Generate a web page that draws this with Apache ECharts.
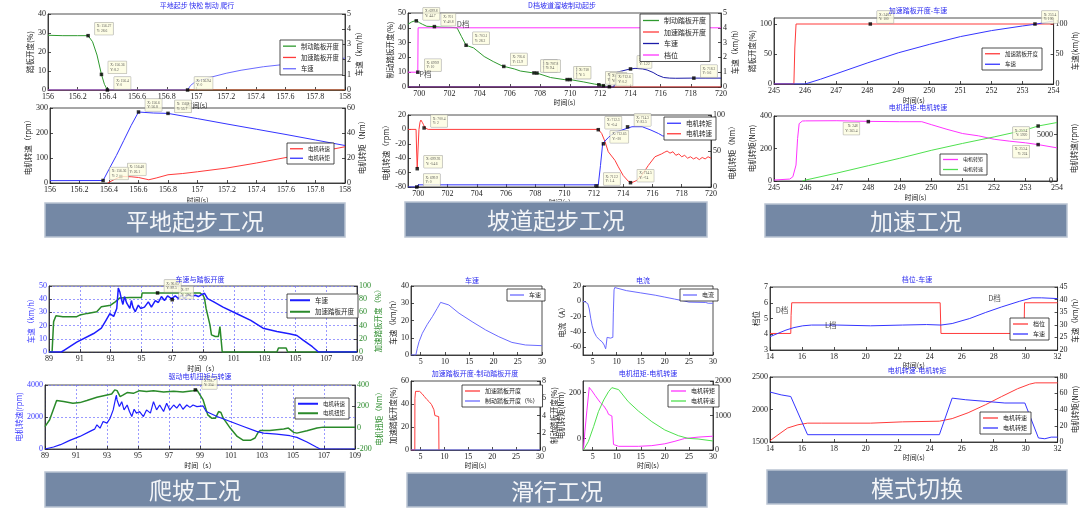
<!DOCTYPE html>
<html><head><meta charset="utf-8">
<script src="https://cdn.jsdelivr.net/npm/echarts@6/dist/echarts.min.js"></script>
<style>html,body{margin:0;padding:0;background:#fff}#c{width:1080px;height:518px}</style>
</head><body><div id="c"></div>
<script>
// ---------------- DATA ----------------
// Panel 1 – 平地起步
const p1Title = '平地起步 快松 制动 爬行';
const p1XTicks = [156,156.2,156.4,156.6,156.8,157,157.2,157.4,157.6,157.8,158];
const p1Brake = [[156,28.8],[156.1,28.6],[156.2,28.6],[156.27,28.6],[156.3,25.4],[156.33,18.4],[156.36,8.2],[156.38,3],[156.4,0],[158,0]];
const p1Accel = [[156,0],[158,0]];
const p1Speed = [[156,0],[156.94,0],[156.96,0.3],[156.98,0.45],[157.0,0.6],[157.05,0.7],[157.1,0.85],[157.2,1.1],[157.3,1.3],[157.45,1.53],[157.6,1.69],[157.7,1.78],[157.8,1.86],[157.9,1.98],[158,2.1]];
const p1TipsL = [[156.27,28.6],[156.36,8.2],[156.4,0],[156.94,0]];
const p1Rpm = [[156.39,0],[156.43,12],[156.48,26],[156.55,25],[156.6,22],[156.67,13],[156.72,20],[156.8,33],[156.9,38],[157,45],[157.2,60],[157.4,80],[157.6,102],[157.8,122],[158,145]];
const p1Torque = [[156,1.9],[156.36,2.0],[156.4,11],[156.45,22],[156.5,34],[156.55,46],[156.6,56.8],[156.7,56],[156.8,55.7],[157,51.5],[157.2,47.2],[157.4,43],[157.6,38.8],[157.8,34.4],[158,30]];
const p1bTipsL = [[156.48,26.1]];
const p1bTipsR = [[156.36,2.0],[156.6,56.8],[156.8,55.7]];

// Panel 2 – 坡道起步
const p2Title = 'D档坡道溜坡制动起步';
const p2XTicks = [700,702,704,706,708,710,712,714,716,718,720];
const p2Brake = [[699.25,42.4],[699.5,44],[699.8,45],[700,43.5],[700.2,42.4],[700.5,41],[701,40.8],[701.5,40.4],[702.1,40.3],[702.5,40],[702.8,34],[703.1,28.2],[703.6,26.4],[704.3,20.6],[704.9,17.2],[705.5,14.2],[706.3,12.2],[706.7,10.8],[707.5,9.6],[707.8,9.4],[708.7,6.4],[709.6,5],[710,5],[710.9,3.4],[711.6,2],[712,1.4],[712.4,0.5],[712.7,0]];
const p2Accel = [[699.25,0],[720,0]];
const p2Speed = [[699.25,0],[712.9,0],[713.0,0.6],[713.1,1.0],[713.5,1.1],[713.9,1.2],[714.3,1.26],[714.8,1.22],[715.1,1.15],[715.5,0.98],[715.8,0.8],[716.2,0.64],[716.6,0.6],[717,0.59],[718,0.6],[719,0.6],[720,0.6]];
const p2Gear = [[699.25,10],[699.9,10],[699.92,40],[720,40]];
const p2Notes = [[702.9,42.5,'D档'],[700.4,9,'P档']];
const p2TipsL = [[699.8,44.7],[701,40.8],[703.1,28.2],[705.6,13.9],[707.6,9.5],[707.8,9.4],[709.8,5],[710,5],[711.9,1.5],[712.2,0.9],[712.6,0.2],[699.9,10]];
const p2TipsR = [[714.0,1.22],[718.2,0.6]];
const p2bXTicks = p2XTicks;
const p2Rpm = [[699.3,0],[699.85,0],[699.89,-30],[699.93,-54],[699.98,-30],[700.05,0],[700.12,10],[700.18,13],[700.27,10],[700.35,7],[700.46,2],[700.68,0],[712.3,0],[712.53,-5.6],[712.76,-17],[712.98,-31],[713.44,-43],[713.67,-52],[714.0,-64],[714.35,-72],[714.58,-74],[714.92,-71],[715.26,-64],[715.72,-50],[716.17,-38],[716.63,-34],[716.8,-32],[717.0,-30],[717.2,-33],[717.4,-31],[717.6,-36],[717.8,-34],[718.0,-38],[718.2,-36],[718.4,-40],[718.6,-38],[718.8,-41],[719.0,-39],[719.2,-42],[719.4,-39],[719.6,-41],[719.8,-38],[720,-40]];
const p2Torque = [[699.3,0],[699.9,0],[700.0,3],[712.3,3],[712.45,30],[712.6,60.5],[713,69],[713.4,75.8],[713.9,79],[714.6,83.7],[715.3,83.7],[715.9,79],[716.4,74.4],[716.7,71],[717.5,69],[718.5,68],[720,68]];
const p2bTipsL = [[699.93,-54.6],[700.4,2],[712.3,-0.4],[712.65,-20],[714.5,-74]];
const p2bTipsR = [[699.9,0],[712.2,1.4],[714.3,83.5]];

// Panel 3 – 加速
const p3XTicks = [245,246,247,248,249,250,251,252,253,254];
const p3Accel = [[245,0],[245.64,0],[245.67,60],[245.71,100],[254,100]];
const p3Speed = [[245,0],[246,0],[246.5,8],[247,17],[248,35],[249,52],[250,66],[251,79],[252,89],[253,96.7],[253.4,99.5],[254,105]];
const p3TipsL = [[248.1,100],[253.4,100]];
const p3Torque = [[245,6],[245.5,12],[245.6,26],[245.7,98],[245.75,261],[245.8,353],[245.9,369],[246,370],[247,371],[248,367],[249,365],[249.7,365],[250,347],[250.5,318],[251,292],[251.5,278],[252,257],[252.5,245],[253,235],[253.4,224],[254,204]];
const p3Rpm = [[245.9,0],[246,100],[247,850],[248,1650],[249,2450],[250,3300],[251,4050],[252,4750],[253,5500],[253.4,5920],[254,6300]];
const p3bTipsL = [[248,365.4],[253.4,224]];
const p3bTipsR = [[253.4,5920]];

// Panel 4 – 爬坡
const p4Speed = [[89,0],[89.8,0],[90,1.5],[90.8,7.5],[91.9,14],[92.4,18],[92.7,24],[92.95,29],[93.2,27],[93.3,28],[93.4,33],[93.5,48.5],[93.6,45.5],[93.7,40],[93.8,36],[93.9,42],[94.05,37],[94.25,33],[94.35,39],[94.45,34],[94.6,30.5],[94.8,35.5],[94.95,33],[95.2,34],[95.45,38],[95.65,34],[95.9,39],[96.1,37.5],[96.3,42],[96.5,39],[96.7,42.5],[96.95,40.5],[97.2,42.5],[97.4,40.5],[97.6,43],[97.8,40.5],[98.05,43.5],[98.25,42],[98.5,43],[98.7,42],[98.9,43.5],[99.1,44.5],[99.3,40.5],[99.7,38],[100.3,34],[101.2,29],[102.1,24],[102.9,18],[103.8,15.5],[104.6,13.8],[105.1,12.5],[105.5,9],[106.1,4],[106.5,0],[109,0]];
const p4Pedal = [[89,0],[89.2,0],[89.3,46],[89.45,55],[89.9,53.5],[90.8,53.5],[91.0,56],[91.5,58.5],[92.1,61],[92.4,68.5],[93.0,71],[93.3,76],[93.6,82],[94.25,82.5],[95.0,82.5],[95.05,89.5],[98.8,89.5],[99.0,86],[99.1,81],[99.2,66],[99.45,41],[99.55,26],[99.8,23.5],[100.0,23.5],[100.1,38.5],[100.2,38.5],[100.25,0],[103.8,0],[103.9,6],[104.4,6],[104.5,0],[109,0]];
const p4TipsL = [[97,39.6]];
const p4TipsR = [[96.05,89.5]];
const p4Rpm = [[89,0],[89.1,40],[89.55,124],[90,270],[90.6,540],[91.25,786],[91.9,1100],[92.2,1240],[92.35,1510],[92.55,1300],[92.75,1720],[93,1615],[93.2,1925],[93.4,2445],[93.6,3375],[93.65,3065],[93.8,2650],[93.95,2960],[94.1,2445],[94.3,2750],[94.45,2340],[94.6,2030],[94.75,2485],[94.9,2240],[95.1,2340],[95.35,2030],[95.55,2445],[95.8,2240],[96,2960],[96.2,2445],[96.4,2750],[96.65,2340],[96.85,2860],[97.05,2445],[97.3,2750],[97.5,2550],[97.7,2815],[97.9,2485],[98.15,2750],[98.35,2600],[98.55,2750],[98.8,2650],[99.2,2690],[99.4,2340],[100.1,2030],[100.95,1720],[101.8,1410],[102.65,1100],[103.1,995],[103.95,930],[104.8,830],[105.25,725],[105.9,435],[106.5,124],[106.75,0],[109,0]];
const p4Torque = [[89,10],[89.3,74],[89.75,255],[90.2,245],[90.8,229],[91.25,235],[91.7,254],[92.35,285],[93,307],[93.3,316],[93.5,354],[93.65,347],[93.85,291],[94.05,307],[94.3,329],[94.7,322],[95.1,347],[95.55,338],[96,347],[96.65,335],[97.3,341],[97.9,335],[98.55,347],[98.8,354],[99.2,260],[99.5,120],[99.75,89],[100,89],[100.2,151],[100.35,142],[100.5,89],[100.95,-4],[101.4,-82],[101.8,-119],[102.25,-119],[102.55,-97],[102.75,-44],[102.9,-26],[103.5,-26],[104.4,-13],[104.7,-4],[105.05,-44],[105.25,-51],[105.9,-29],[106.55,-4],[106.95,5],[109,5]];
const p4bTipsR = [[98.7,354]];

// Panel 5 – 滑行
const p5XTicks = [5,10,15,20,25,30];
const p5Speed = [[3,0],[4.0,0],[4.3,3.9],[4.66,7.7],[5.34,12.6],[6.37,17.8],[7.4,22.2],[8.4,27],[9.1,30.5],[9.45,31.3],[10.8,29],[12.9,24.2],[15.6,19.3],[18.4,14.5],[21.1,10.6],[23.8,7.3],[26.6,5.8],[30,5.4]];
const p5Current = [[3,0],[3.5,-1],[4.0,-3],[4.3,-10],[4.6,-22],[4.9,-32],[5.3,-40],[5.8,-46],[6.4,-50],[7.0,-53],[7.4,-57],[7.7,-62],[7.8,-58],[8.0,-47],[8.3,-46],[8.7,-48],[9.1,-49],[9.2,-47],[9.3,-15],[9.45,15],[9.6,18],[10,17],[12,14],[15,11],[18,8],[20,5.5],[22,3],[24,0.5],[25,-1],[28.5,-1.5],[29,-2.5],[30,-2.5]];
const p5CurYTicks = [-60,-40,-20,0,20];
const p5Accel = [[3,0],[3.8,0],[3.82,45],[3.95,51],[4.3,52],[4.8,51],[5.3,49],[5.8,46.5],[6.3,44],[6.8,42],[7.3,39.5],[7.6,38],[7.8,35],[8.0,30],[8.3,29.5],[8.8,29],[8.85,0]];
const p5Brake = [[3,0],[30,0]];
const p5Torque = [[3.1,-48],[3.4,32],[3.8,120],[4.3,222],[4.86,207],[5.55,186],[6.6,156],[7.3,142],[7.6,142],[8.0,120],[8.3,105],[9.0,98],[9.34,-26],[10.4,-34],[14.5,-34],[17.3,-31],[20,-23],[22.1,-12],[24.1,0],[26.9,6],[30,10]];
const p5Rpm = [[3.1,0],[4.1,242],[5.2,676],[6.2,1111],[7.3,1449],[8.3,1691],[9.0,1807],[9.3,1836],[10.4,1750],[12.4,1401],[14.5,1130],[17.3,821],[20,580],[22.8,415],[24.8,338],[26.9,319],[30,261]];
const p5TqTicks = [0,200];

// Panel 6 – 模式切换
const p6XTicks = [14,16,18,20,22,24,26,28,30,32];
const p6Gear = [[14,4.05],[15.3,4.05],[15.32,5.2],[15.36,6],[24.65,6],[24.7,4.05],[29.9,4.05],[29.93,6],[32,6]];
const p6Speed = [[14,25.3],[14.5,26.6],[15.0,27.9],[15.5,28.9],[16.05,29.6],[16.6,29.9],[18.2,29.9],[20.3,29.6],[22.3,29.9],[23.8,30.1],[24.7,29.9],[25.4,30.5],[26.5,32.5],[27.5,34.9],[28.5,37.1],[29.6,39.3],[30.4,40.7],[31,40.7],[32,40.4]];
const p6Notes = [[14.75,5.5,'D档'],[17.8,4.6,'L档'],[28.05,6.3,'D档']];
const p6Rpm = [[14,1520],[14.5,1610],[15.1,1715],[15.75,1765],[16.35,1790],[17.2,1790],[20.3,1790],[22.3,1810],[24.6,1820],[25.4,1860],[26.4,1950],[27.5,2075],[28.5,2200],[29.5,2320],[30.25,2390],[30.6,2410],[32,2410]];
const p6Torque = [[14,61.5],[14.7,58],[15.3,56],[16.35,9],[24.6,9],[25.4,54],[26.25,52],[27.5,50],[28.7,48],[29.95,48],[30.8,5],[31.2,4],[31.6,6],[32,6]];

const banners = ['平地起步工况','坡道起步工况','加速工况','爬坡工况','滑行工况','模式切换'];

// ---------------- BUILD ----------------
const FN = '"Liberation Serif", serif';
const FC = '"Noto Sans CJK SC", sans-serif';
const INK = '#222';
const fmt = v => String(Math.round(v * 1000) / 1000);
const grids = [], xAxes = [], yAxes = [], series = [], legends = [], graphics = [];

function mkX(gi, o) {
  return {type:'value', gridIndex:gi, min:o.min, max:o.max, interval:o.interval,
    axisLine:{onZero:false, lineStyle:{color:INK, width:0.8}},
    axisTick:{inside:true, length:3, lineStyle:{color:INK, width:0.8}, customValues:o.ticks},
    axisLabel:{fontFamily:FN, fontSize:8, color:o.lc||INK, margin:3, customValues:o.ticks, formatter:fmt},
    splitLine:{show:!!o.grid, lineStyle:{color:'#7070ff', type:[2,2], width:0.7}},
    name:o.name||'', nameLocation:'middle', nameGap:o.gap||13,
    nameTextStyle:{fontFamily:FC, fontSize:7, color:INK}};
}
function mkY(gi, o, pos) {
  return {type:'value', gridIndex:gi, position:pos, min:o.min, max:o.max, interval:o.interval,
    axisLine:{show:true, onZero:false, lineStyle:{color:INK, width:0.8}},
    axisTick:{show:true, inside:true, length:3, lineStyle:{color:INK, width:0.8}, customValues:o.ticks},
    axisLabel:{fontFamily:FN, fontSize:8, color:o.lc||INK, margin:o.inside?4:2, inside:!!o.inside, customValues:o.ticks, formatter:fmt},
    splitLine:{show:!!o.grid, lineStyle:{color:'#7070ff', type:[2,2], width:0.7}},
    name:o.name||'', nameLocation:'middle', nameRotate:90, nameGap:o.gap||16,
    nameTextStyle:{fontFamily:FC, fontSize:o.nfs||7.5, color:o.nc||INK}};
}
function tipSeries(gi, yi, arr, pos) {
  if (!arr || !arr.length) return;
  const left = pos === 'left';
  series.push({type:'scatter', xAxisIndex:gi, yAxisIndex:yi, data:arr, symbol:'rect', symbolSize:3.5,
    itemStyle:{color:'#000'}, z:6, silent:true,
    label:{show:true, position:left?'left':'right', offset:left?[-2,7]:[0,-7], formatter:p=>'X: '+p.value[0]+'\nY: '+p.value[1],
      fontSize:3.6, lineHeight:4.6, fontFamily:FN, color:'#333', backgroundColor:'#fdfde0',
      borderColor:'#999', borderWidth:0.5, padding:[1.5,2]}});
}
function noteSeries(gi, yi, arr) {
  series.push({type:'scatter', xAxisIndex:gi, yAxisIndex:yi, symbolSize:0, z:6, silent:true,
    data:arr.map(d=>({value:[d[0],d[1]], name:d[2]})),
    label:{show:true, position:'inside', formatter:p=>p.name, fontSize:7.5, fontFamily:FC, color:INK}});
}
function panel(c) {
  const gi = grids.length;
  grids.push({left:c.box[0], top:c.box[1], width:c.box[2], height:c.box[3], show:true,
    borderColor:INK, borderWidth:0.8, backgroundColor:'#fff'});
  xAxes.push(mkX(gi, c.x));
  const yl = yAxes.length; yAxes.push(mkY(gi, c.yl, 'left'));
  let yr = yl;
  if (c.yr) { yr = yAxes.length; yAxes.push(mkY(gi, c.yr, 'right')); }
  const names = [];
  c.series.forEach(s => {
    const nm = s.name + '#' + gi;
    names.push(nm);
    series.push({type:'line', name:nm, xAxisIndex:gi, yAxisIndex:s.right?yr:yl, data:s.data,
      symbol:'none', showSymbol:false, animation:false, z:s.z||3,
      lineStyle:{color:s.color, width:s.w||1}, itemStyle:{color:s.color}});
  });
  tipSeries(gi, yl, c.tipsL, c.tipPosL); tipSeries(gi, yr, c.tipsR, c.tipPosR);
  if (c.notes) noteSeries(gi, yl, c.notes);
  if (c.legend) {
    const L = c.legend;
    legends.push({left:L.left, top:L.top, orient:'vertical', data:L.order?L.order.map(i=>names[i]):names,
      formatter:n=>n.replace(/#\d+$/,''), selectedMode:false, icon:'rect', itemWidth:L.iw||15, itemHeight:L.ih||1.3,
      itemGap:L.gap||4, padding:L.pad||[3,4,3,3], borderColor:INK, borderWidth:0.8, backgroundColor:'#fff',
      textStyle:{fontFamily:FC, fontSize:L.fs||6, color:INK}, z:7});
  }
  if (c.title) graphics.push({type:'text', x:c.title.x, y:c.title.y, z:10,
    style:{text:c.title.text, fill:'#2b2bef', font:'7px ' + FC, align:'center', verticalAlign:'middle'}});
}

const GREEN = '#2f9a2f', RED = '#ff3b3b', BLUE = '#3535ff', LBLUE = '#6b6bff', DBLUE = '#1c1ca8',
      MAG = '#ff33ff', LGREEN = '#4fe04f';

// P1 top
panel({box:[48,14,297,76],
  x:{min:156,max:158,ticks:p1XTicks,name:'时间(s)',gap:12},
  yl:{min:0,max:40,ticks:[0,10,20,30,40],name:'踏板开度(%)',gap:14},
  yr:{min:0,max:5,ticks:[0,1,2,3,4,5],name:'车速（km/h）',gap:10},
  series:[{name:'制动踏板开度',data:p1Brake,color:GREEN},{name:'加速踏板开度',data:p1Accel,color:RED},
          {name:'车速',data:p1Speed,color:LBLUE,right:true}],
  tipsL:p1TipsL, legend:{left:280,top:40,fs:6.3,gap:5,iw:13},
  title:{text:p1Title,x:197,y:5}});
// P1 bottom
panel({box:[50,108,295,75],
  x:{min:156,max:158,ticks:p1XTicks,name:'时间(s)',gap:14},
  yl:{min:0,max:300,ticks:[0,100,200,300],name:'电机转速（rpm）',gap:18},
  yr:{min:0,max:60,ticks:[0,20,40,60],name:'电机转矩（Nm）',gap:13},
  series:[{name:'电机转速',data:p1Rpm,color:RED},{name:'电机转矩',data:p1Torque,color:BLUE,right:true}],
  tipsL:p1bTipsL, tipsR:p1bTipsR, legend:{left:287,top:143,fs:5.5,iw:13}});
// P2 top
panel({box:[408,13,313,74],
  x:{min:699.25,max:720,ticks:p2XTicks,name:'时间(s)',gap:12},
  yl:{min:0,max:50,ticks:[0,10,20,30,40,50],name:'制动踏板开度(%)',gap:14},
  yr:{min:0,max:5,ticks:[0,1,2,3,4,5],name:'车速（km/h）',gap:10},
  series:[{name:'制动踏板开度',data:p2Brake,color:GREEN},{name:'加速踏板开度',data:p2Accel,color:RED},
          {name:'车速',data:p2Speed,color:DBLUE,right:true},{name:'档位',data:p2Gear,color:MAG}],
  tipsL:p2TipsL, tipsR:p2TipsR, notes:p2Notes, legend:{left:640,top:14,fs:7,gap:4.5,iw:16},
  title:{text:p2Title,x:562,y:5}});
// P2 bottom
panel({box:[408,115,303,72],
  x:{min:699.3,max:720,ticks:p2bXTicks,name:'时间(s)',gap:12},
  yl:{min:-80,max:20,ticks:[-80,-60,-40,-20,0,20],name:'电机转速（rpm）',gap:18},
  yr:{min:0,max:100,ticks:[0,50,100],name:'电机转矩（Nm）',gap:16},
  series:[{name:'电机转速',data:p2Rpm,color:RED},{name:'电机转矩',data:p2Torque,color:BLUE,right:true}],
  tipsL:p2bTipsL, tipsR:p2bTipsR, legend:{left:664,top:117,fs:6.5,order:[1,0],iw:14}});
// P3 top
panel({box:[774,18,283,66],
  x:{min:245,max:254,ticks:p3XTicks,name:'时间(s)',gap:13},
  yl:{min:0,max:110,ticks:[0,50,100],name:'踏板开度(%)',gap:17},
  yr:{min:0,max:110,ticks:[0,50,100],name:'车速(km/h)',gap:16},
  series:[{name:'加速踏板开度',data:p3Accel,color:RED},{name:'车速',data:p3Speed,color:BLUE,right:true}],
  tipsL:p3TipsL, legend:{left:982,top:48,fs:5.5,gap:5},
  title:{text:'加速踏板开度-车速',x:918,y:10}});
// P3 bottom
panel({box:[774,116,283,65],
  x:{min:245,max:254,ticks:p3XTicks,name:'时间(s)',gap:13},
  yl:{min:0,max:400,ticks:[0,200,400],name:'电机转矩(Nm)',gap:17},
  yr:{min:0,max:7000,ticks:[0,5000],name:'电机转速(rpm)',gap:13,inside:true},
  series:[{name:'电机转矩',data:p3Torque,color:MAG},{name:'电机转速',data:p3Rpm,color:LGREEN,right:true}],
  tipsL:p3bTipsL, tipsR:p3bTipsR, tipPosL:'left', tipPosR:'left', legend:{left:940,top:154,fs:5,gap:5},
  title:{text:'电机扭矩-电机转速',x:918,y:107}});
// P4 top
panel({box:[49,286,308,66],
  x:{min:89,max:109,interval:2,name:'时间（s）',gap:13,grid:true},
  yl:{min:0,max:50,interval:10,name:'车速（km/h）',gap:14,lc:'#3a3aff',nc:'#3a3aff',grid:true},
  yr:{min:0,max:100,interval:20,name:'加速踏板开度（%）',gap:16,lc:'#2a8a2a',nc:'#2a8a2a'},
  series:[{name:'车速',data:p4Speed,color:'#1d1dff',w:1.5,z:4},{name:'加速踏板开度',data:p4Pedal,color:'#2a8a2a',w:1.5,right:true}],
  tipsL:p4TipsL, tipsR:p4TipsR, legend:{left:287,top:294,fs:6.5,iw:20,ih:2,gap:5},
  title:{text:'车速与踏板开度',x:200,y:279}});
// P4 bottom
panel({box:[45,385,310,64],
  x:{min:89,max:109,interval:2,name:'时间（s）',gap:13,grid:true},
  yl:{min:0,max:4000,interval:2000,name:'电机转速(rpm)',gap:22,lc:'#3a3aff',nc:'#3a3aff',grid:true},
  yr:{min:-200,max:400,interval:200,name:'电机扭矩（Nm）',gap:20,lc:'#2a8a2a',nc:'#2a8a2a'},
  series:[{name:'电机转速',data:p4Rpm,color:'#1d1dff',w:1.2,z:4},{name:'电机扭矩',data:p4Torque,color:'#2a8a2a',w:1.5,right:true}],
  tipsR:p4bTipsR, legend:{left:295,top:398,fs:5.5,iw:20,ih:2},
  title:{text:'驱动电机扭矩与转速',x:200,y:376}});
// P5 TL
panel({box:[411,286,131,69],
  x:{min:3,max:30,ticks:p5XTicks},
  yl:{min:0,max:40,ticks:[0,10,20,30,40],name:'车速（km/h）',gap:14},
  series:[{name:'车速',data:p5Speed,color:LBLUE}],
  legend:{left:507,top:289,fs:6,iw:14},
  title:{text:'车速',x:472,y:280}});
// P5 TR
panel({box:[583,286,130,69],
  x:{min:3,max:30,ticks:p5XTicks},
  yl:{min:-70,max:20,ticks:p5CurYTicks,name:'电流（A）',gap:17},
  series:[{name:'电流',data:p5Current,color:LBLUE}],
  legend:{left:680,top:289,fs:6,iw:14},
  title:{text:'电流',x:643,y:280}});
// P5 BL
panel({box:[411,381,129,69],
  x:{min:3,max:30,ticks:p5XTicks,name:'时间(s)',gap:12},
  yl:{min:0,max:60,ticks:[0,20,40,60],name:'加速踏板开度(%)',gap:14},
  yr:{min:0,max:8,ticks:[0,2,4,6,8],name:'制动踏板开度(%)',gap:10},
  series:[{name:'加速踏板开度',data:p5Accel,color:RED},{name:'制动踏板开度（%）',data:p5Brake,color:LBLUE,right:true}],
  legend:{left:462,top:385,fs:6},
  title:{text:'加速踏板开度-制动踏板开度',x:475,y:373}});
// P5 BR
panel({box:[583,381,130,69],
  x:{min:3,max:30,ticks:p5XTicks,name:'时间(s)',gap:12},
  yl:{min:-50,max:250,ticks:p5TqTicks,name:'电机转矩(Nm)',gap:18},
  yr:{min:0,max:2000,ticks:[0,1000,2000]},
  series:[{name:'电机转矩',data:p5Torque,color:MAG},{name:'电机转速',data:p5Rpm,color:LGREEN,right:true}],
  legend:{left:668,top:385,fs:6},
  title:{text:'电机扭矩-电机转速',x:648,y:373}});
// P6 top
panel({box:[770,287,292,63],
  x:{min:14,max:32,ticks:p6XTicks,name:'时间(s)',gap:12},
  yl:{min:3,max:7,ticks:[3,4,5,6,7],name:'档位',gap:10},
  yr:{min:20,max:45,ticks:[20,25,30,35,40,45],name:'车速（km/h）',gap:13},
  series:[{name:'档位',data:p6Gear,color:RED},{name:'车速',data:p6Speed,color:BLUE,right:true}],
  notes:p6Notes, legend:{left:1010,top:318,fs:6},
  title:{text:'档位-车速',x:917,y:279}});
// P6 bottom
panel({box:[770,377,292,65],
  x:{min:14,max:32,ticks:p6XTicks,name:'时间(s)',gap:12},
  yl:{min:1500,max:2500,ticks:[1500,2000,2500]},
  yr:{min:0,max:80,ticks:[0,20,40,60,80],name:'电机转矩(Nm)',gap:13},
  series:[{name:'电机转速',data:p6Rpm,color:RED},{name:'电机转矩',data:p6Torque,color:BLUE,right:true}],
  legend:{left:980,top:412,fs:6},
  title:{text:'电机转速-电机转矩',x:917,y:370}});

// banners
const bannerBoxes = [[45,203,300,34],[405,202,302,35],[765,204,302,33],[45,472,300,35],[407,473,300,34],[767,470,300,34]];
banners.forEach((t,i)=>{
  const b = bannerBoxes[i];
  graphics.push({type:'rect', z:10, shape:{x:b[0],y:b[1],width:b[2],height:b[3]},
    style:{fill:'#7488a5', stroke:'#b9c3d2', lineWidth:1.5}});
  graphics.push({type:'text', z:11, x:b[0]+b[2]/2, y:b[1]+b[3]/2+1,
    style:{text:t, fill:'#f3f5f8', font:'23px ' + FC, align:'center', verticalAlign:'middle'}});
});

const chart = echarts.init(document.getElementById('c'));
chart.setOption({animation:false, backgroundColor:'#fff', grid:grids, xAxis:xAxes, yAxis:yAxes,
  series:series, legend:legends, graphic:graphics});
</script></body></html>
